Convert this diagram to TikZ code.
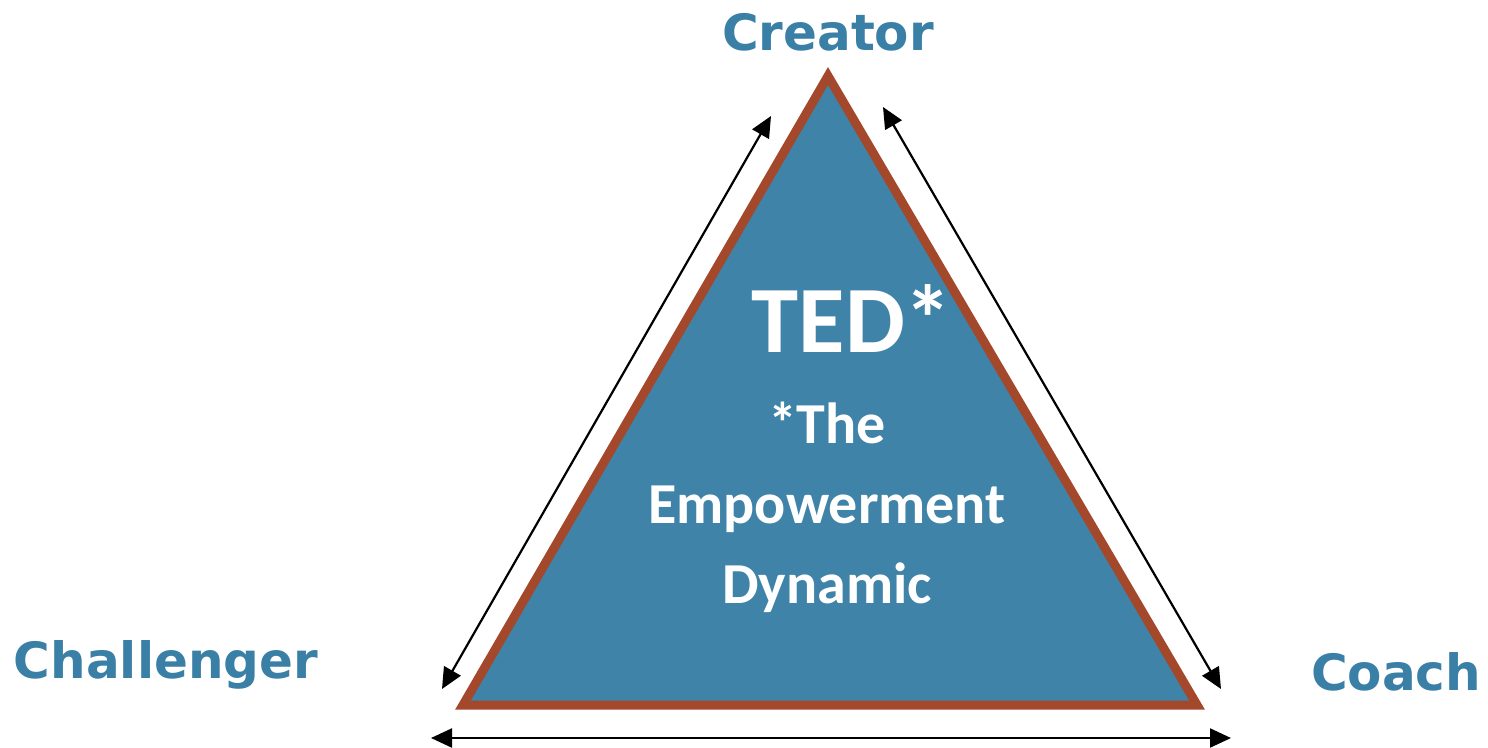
\documentclass[tikz,border=0pt]{standalone}
\usepackage{fontspec}
\setmainfont{DejaVu Sans}
\newfontfamily\calibrifont{Carlito}
\usepackage{tikz}
\usetikzlibrary{calc,arrows.meta,positioning}
\definecolor{tedblue}{HTML}{3F83A8}
\definecolor{tedlabel}{HTML}{3A7FA6}
\definecolor{tedbrown}{HTML}{A4482B}
\tikzset{
	every node/.style={inner sep=0pt},
	role node/.style={font=\fontsize{50}{60}\selectfont\bfseries, text=tedlabel}
}

\begin{document}
\begin{tikzpicture}[x=1pt, y=-1pt, >={Triangle[length=21pt,width=19pt]},
	linkarrow/.style={<->, line width=2.2pt, black},
	innertext/.style={font=\calibrifont\bfseries, text=white, align=center}]
	\useasboundingbox (0,0) rectangle (1488,747);

	% Triangle
	\coordinate (top) at (828,76);
	\coordinate (left) at (463,705);
	\coordinate (right) at (1197,705);
	\draw[line width=9pt, line join=miter, draw=tedbrown, fill=tedblue]
		(top) -- (left) -- (right) -- cycle;

	% Labels
	\node[role node] (creator) at (828,32) {Creator};
	\node[role node] (challenger) at (166,665) {Challenger};
	\node[role node] (coach) at (1396,672) {Coach};

	\node[innertext, anchor=base, font=\calibrifont\bfseries\fontsize{95}{95}\selectfont] (ted) at (852,352) {TED*};
	\node[innertext, anchor=base, font=\calibrifont\bfseries\fontsize{58}{80}\selectfont] (the) at (827,443) {*The};
	\node[innertext, anchor=base, font=\calibrifont\bfseries\fontsize{58}{80}\selectfont] (empower) at (827,523) {Empowerment};
	\node[innertext, anchor=base, font=\calibrifont\bfseries\fontsize{58}{80}\selectfont] (dynamic) at (827,603) {Dynamic};

	% Side Arrows
	\coordinate (a1) at (771,116);
	\coordinate (a2) at (442,689);
	\coordinate (b1) at (883,107);
	\coordinate (b2) at (1221,689);
	\coordinate (c1) at (431,738);
	\coordinate (c2) at (1231,738);
	\draw[linkarrow] (a1) -- (a2);
	\draw[linkarrow] (b1) -- (b2);
	\draw[linkarrow] (c1) -- (c2);
\end{tikzpicture}
\end{document}
